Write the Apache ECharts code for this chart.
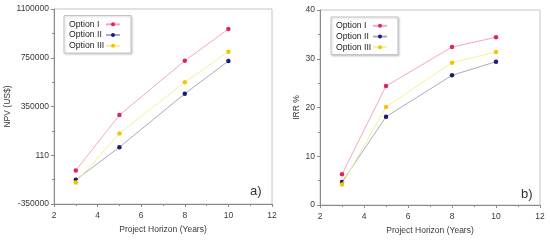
<!DOCTYPE html>
<html>
<head>
<meta charset="utf-8">
<script src="https://cdn.jsdelivr.net/npm/echarts@6/dist/echarts.min.js"></script>
<style>
  html, body { margin: 0; padding: 0; background: #fff; }
  #chart { width: 550px; height: 241px; }
</style>
</head>
<body>
<div id="chart"></div>
<script>
// 数据
const years = [3, 5, 8, 10];
const seriesNames = ['Option I', 'Option II', 'Option III'];

// a) NPV (US$)
const npvOption1 = [-100000, 311000, 715000, 951000];
const npvOption2 = [-170000, 72000, 470000, 713000];
const npvOption3 = [-190000, 175000, 555000, 783000];
const npvTickLabels = ['-350000', '110', '350000', '750000', '1100000'];
const npvMin = -350000;
const npvMax = 1100000;

// b) IRR %
const irrOption1 = [6.3, 24.4, 32.4, 34.4];
const irrOption2 = [4.7, 18.1, 26.6, 29.4];
const irrOption3 = [4.2, 20.1, 29.2, 31.4];

const dotColors = ['#e0245e', '#1c1c6e', '#f5c400'];
const lineColors = ['#f2aabb', '#a9a9c6', '#f7ef9a'];

const font = 'Liberation Sans, Arial, sans-serif';
const textColor = '#383838';

let myChart = echarts.init(document.getElementById('chart'), null, {renderer: 'canvas'});

// the NPV ticks are evenly spaced, so count them from the bottom of the axis
const npvStep = (npvMax - npvMin) / (npvTickLabels.length - 1);
function shiftNpv(arr) {
    return arr.map((v, i) => [years[i], v - npvMin]);
}
function pairs(arr) {
    return arr.map((v, i) => [years[i], v]);
}

function makeXAxis(gridIndex) {
    return {
        type: 'value',
        gridIndex: gridIndex,
        min: 2,
        max: 12,
        interval: 2,
        name: 'Project Horizon (Years)',
        nameLocation: 'middle',
        nameGap: 21,
        nameTextStyle: {color: textColor, fontSize: 8.5, fontFamily: font},
        axisLine: {show: true, lineStyle: {color: '#8a8a8a', width: 1}},
        axisTick: {show: true, inside: false, length: 3, lineStyle: {color: '#8a8a8a'}},
        minorTick: {show: true, splitNumber: 2, length: 2, lineStyle: {color: '#8a8a8a'}},
        splitLine: {show: false},
        axisLabel: {color: textColor, fontSize: 8.5, fontFamily: font, margin: 7}
    };
}

function makeYAxis(gridIndex, opts) {
    return Object.assign({
        type: 'value',
        gridIndex: gridIndex,
        nameLocation: 'middle',
        nameRotate: 90,
        nameTextStyle: {color: textColor, fontSize: 8.5, fontFamily: font},
        axisLine: {show: true, lineStyle: {color: '#8a8a8a', width: 1}},
        axisTick: {show: true, inside: false, length: 3, lineStyle: {color: '#8a8a8a'}},
        minorTick: {show: true, splitNumber: 2, length: 2, lineStyle: {color: '#8a8a8a'}},
        splitLine: {show: false},
        axisLabel: {color: textColor, fontSize: 8.5, fontFamily: font, margin: 5}
    }, opts);
}

function makeSeries(name, idx, data, axisIndex) {
    return {
        name: name,
        type: 'line',
        xAxisIndex: axisIndex,
        yAxisIndex: axisIndex,
        data: data,
        symbol: 'circle',
        symbolSize: 4.5,
        showSymbol: true,
        itemStyle: {color: dotColors[idx]},
        lineStyle: {color: lineColors[idx], width: 1},
        emphasis: {disabled: true},
        z: 3 + idx
    };
}

function makeLegend(left, top) {
    return {
        left: left,
        top: top,
        orient: 'vertical',
        align: 'right',
        data: seriesNames,
        itemWidth: 14,
        itemHeight: 5,
        itemGap: 0,
        padding: [3.5, 10, 2, 5],
        backgroundColor: '#fff',
        borderColor: '#c4c4c4',
        borderWidth: 1,
        shadowColor: 'rgba(0,0,0,0.18)',
        shadowBlur: 2,
        shadowOffsetX: 1,
        shadowOffsetY: 1,
        selectedMode: false,
        formatter: function (name) {
            return '{t|' + name + '}';
        },
        textStyle: {
            color: '#222', fontSize: 8.7, fontFamily: font, lineHeight: 10.7,
            rich: {
                t: {width: 32, align: 'left', color: '#222', fontSize: 8.7, fontFamily: font, lineHeight: 10.7}
            }
        }
    };
}

let option = {
    animation: false,
    backgroundColor: '#fff',
    grid: [
        {left: 54, top: 9, width: 218, height: 195, show: true, borderColor: '#c4c4c4', borderWidth: 1, backgroundColor: 'transparent'},
        {left: 320, top: 10, width: 220, height: 195, show: true, borderColor: '#c4c4c4', borderWidth: 1, backgroundColor: 'transparent'}
    ],
    legend: [makeLegend(64, 15.5), makeLegend(331, 17)],
    xAxis: [makeXAxis(0), makeXAxis(1)],
    yAxis: [
        makeYAxis(0, {
            name: 'NPV (US$)',
            nameGap: 36,
            min: 0,
            max: npvMax - npvMin,
            interval: npvStep,
            axisLabel: {
                color: textColor, fontSize: 8.5, fontFamily: font, margin: 5,
                formatter: function (v) {
                    return npvTickLabels[Math.round(v / npvStep)];
                }
            }
        }),
        makeYAxis(1, {
            name: 'IRR %',
            nameGap: 15,
            min: 0,
            max: 40,
            interval: 10
        })
    ],
    series: [
        makeSeries(seriesNames[0], 0, shiftNpv(npvOption1), 0),
        makeSeries(seriesNames[1], 1, shiftNpv(npvOption2), 0),
        makeSeries(seriesNames[2], 2, shiftNpv(npvOption3), 0),
        makeSeries(seriesNames[0], 0, pairs(irrOption1), 1),
        makeSeries(seriesNames[1], 1, pairs(irrOption2), 1),
        makeSeries(seriesNames[2], 2, pairs(irrOption3), 1)
    ],
    graphic: [
        {type: 'text', left: 250, top: 185, style: {text: 'a)', fill: '#333', font: '13px ' + font}},
        {type: 'text', left: 521, top: 188, style: {text: 'b)', fill: '#333', font: '13px ' + font}}
    ]
};

myChart.setOption(option);
</script>
</body>
</html>
